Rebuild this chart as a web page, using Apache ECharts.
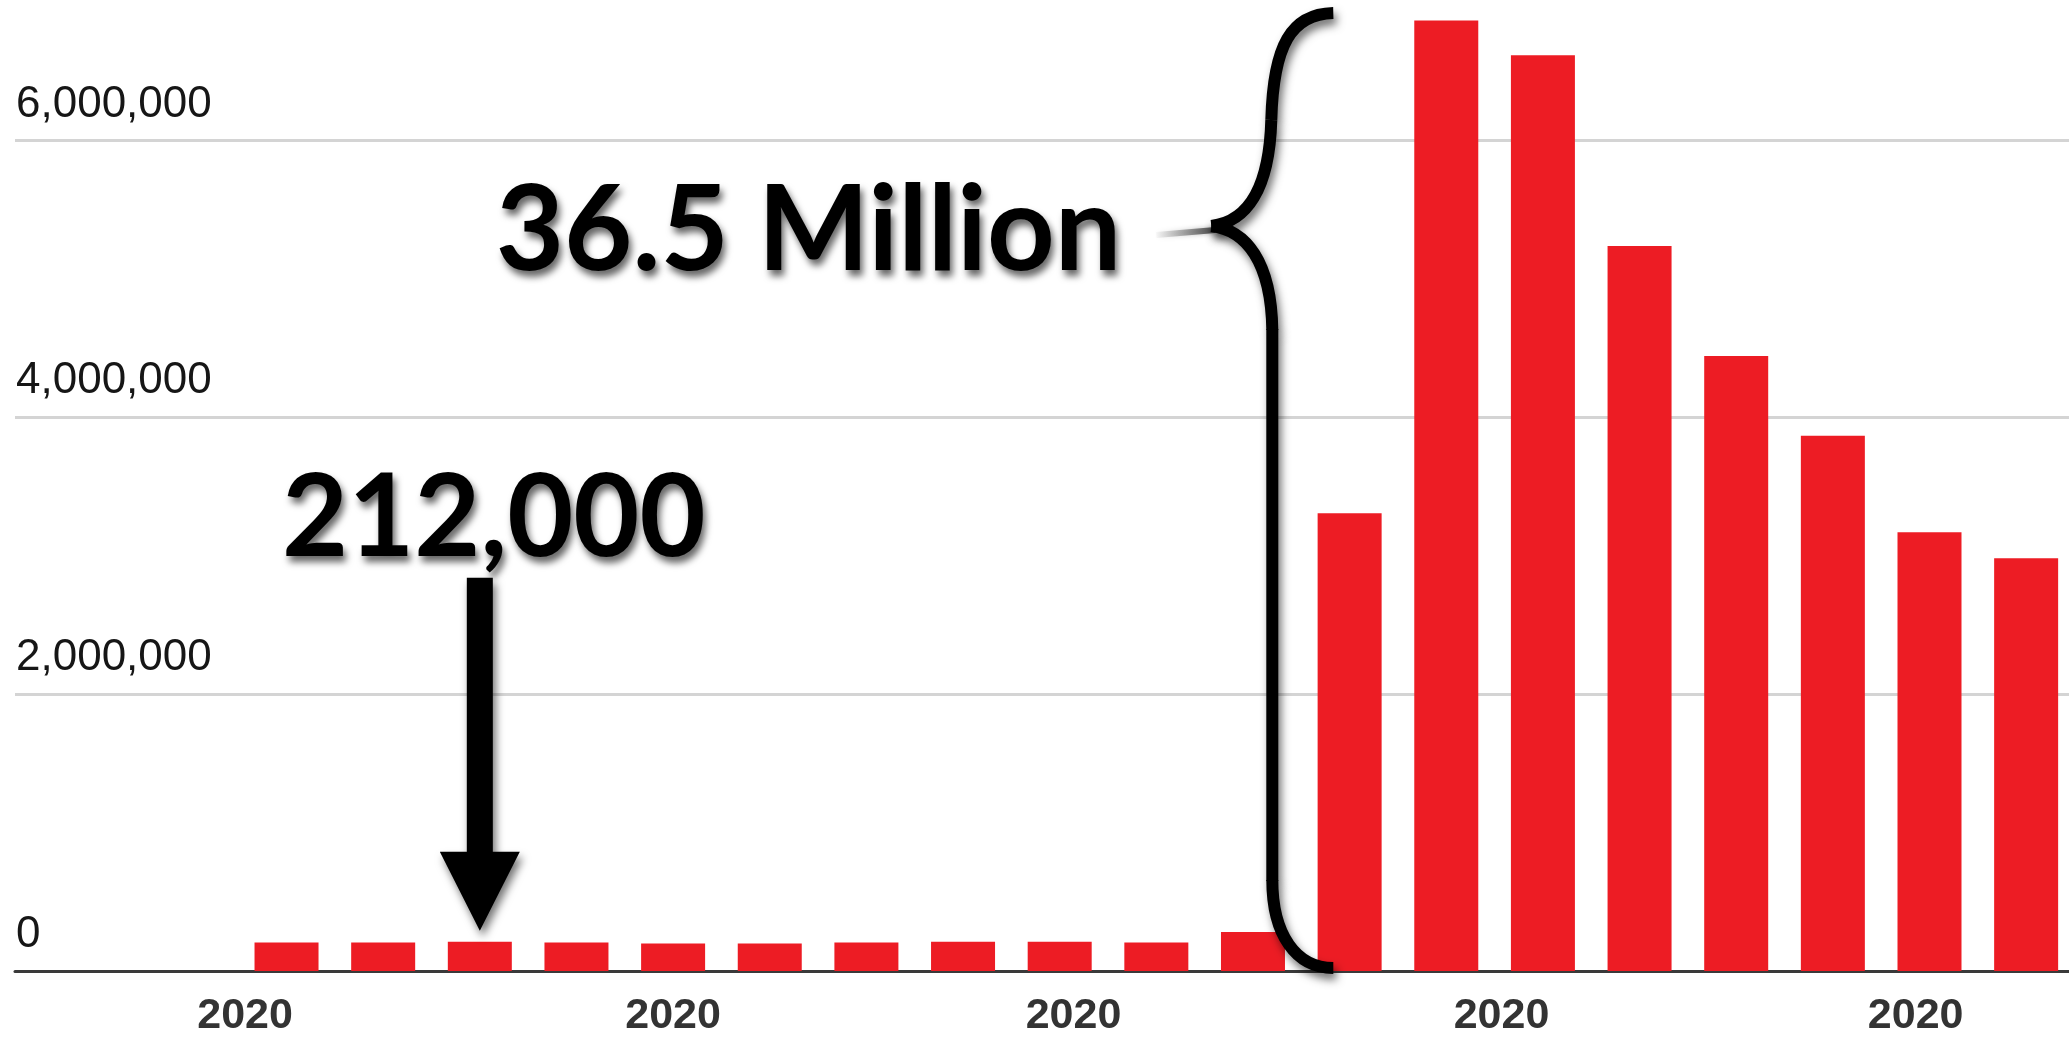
<!DOCTYPE html>
<html>
<head>
<meta charset="utf-8">
<script src="https://cdn.jsdelivr.net/npm/echarts@6/dist/echarts.min.js"></script>
<style>
  html, body { margin: 0; padding: 0; background: #ffffff; }
  #chart { width: 2069px; height: 1039px; }
</style>
</head>
<body>
<div id="chart"></div>
<script>
// Weekly initial jobless claims, week ending (2020)
const weekEnding = [
  '2020-01-04', '2020-01-11', '2020-01-18', '2020-01-25',
  '2020-02-01', '2020-02-08', '2020-02-15', '2020-02-22', '2020-02-29',
  '2020-03-07', '2020-03-14', '2020-03-21', '2020-03-28',
  '2020-04-04', '2020-04-11', '2020-04-18', '2020-04-25',
  '2020-05-02', '2020-05-09'
];
const initialClaims = [
  205000, 205000, 212000, 205000,
  198000, 198000, 205000, 212000, 212000,
  205000, 282000, 3307000, 6867000,
  6615000, 5237000, 4442000, 3867000,
  3169000, 2981000
];
// Month boundaries used for the x-axis labels
const monthTicks = ['2020-01-01', '2020-02-01', '2020-03-01', '2020-04-01', '2020-05-01'];
const axisStart = '2019-12-15T08:00';
const axisEnd = '2020-05-12T02:30';

// Callouts
const calloutWeekIndex = 2;           // week the arrow points at
const calloutText = '212,000';
const surgeStartIndex = 11;            // first week inside the brace
const surgeText = '36.5 Million';

function toTime(s) {
  const m = s.match(/^(\d{4})-(\d{2})-(\d{2})(?:T(\d{2}):(\d{2}))?/);
  return Date.UTC(+m[1], +m[2] - 1, +m[3], m[4] ? +m[4] : 0, m[5] ? +m[5] : 0);
}

const chart = echarts.init(document.getElementById('chart'), null, { renderer: 'canvas' });

const seriesData = weekEnding.map((d, i) => [toTime(d), initialClaims[i]]);

chart.setOption({
  animation: false,
  backgroundColor: '#ffffff',
  grid: { left: 15, right: 0, top: 2, bottom: 68, containLabel: false },
  xAxis: {
    type: 'value',
    min: toTime(axisStart),
    max: toTime(axisEnd),
    axisLine: { show: true, lineStyle: { color: '#3a3a3a', width: 3 } },
    axisTick: { show: false },
    splitLine: { show: false },
    axisLabel: {
      customValues: monthTicks.map(toTime),
      formatter: v => String(new Date(v).getUTCFullYear()),
      color: '#333333',
      fontFamily: 'Liberation Sans, Arial, sans-serif',
      fontWeight: 'bold',
      fontSize: 43,
      lineHeight: 43,
      margin: 24
    }
  },
  yAxis: {
    type: 'value',
    min: 0,
    max: 7000000,
    interval: 2000000,
    axisLine: { show: false },
    axisTick: { show: false },
    splitLine: { show: true, showMaxLine: false, lineStyle: { color: '#d4d4d4', width: 3 } },
    axisLabel: {
      inside: true,
      showMaxLabel: false,
      margin: 1,
      align: 'left',
      verticalAlign: 'bottom',
      lineHeight: 72,
      color: '#161616',
      fontFamily: 'Liberation Sans, Arial, sans-serif',
      fontSize: 44,
      formatter: v => v.toLocaleString('en-US')
    }
  },
  series: [{
    type: 'bar',
    data: seriesData,
    barWidth: 64,
    itemStyle: { color: '#ED1C24' },
    z: 2
  }]
});

// Annotations placed from the chart's own coordinate system
function px(i, v) {
  return chart.convertToPixel({ xAxisIndex: 0, yAxisIndex: 0 }, [toTime(weekEnding[i]), v]);
}
const zero = px(0, 0)[1];
const arrowPt = px(calloutWeekIndex, initialClaims[calloutWeekIndex]);
const ax = arrowPt[0];
const tipY = arrowPt[1] - 11;
const headBase = tipY - 79;
const shaftTop = tipY - 353;
const shaftHalf = 13, headHalf = 40;

const xBefore = px(surgeStartIndex - 1, 0)[0];
const xAfter = px(surgeStartIndex, 0)[0];
const bx = (xBefore + xAfter) / 2 - 30;     // vertical stroke of the brace
const ex = bx + 62;                         // brace ends
const topY = zero - 958;
const tipX = bx - 60;
const tipBY = topY + 213;

const shadow = { shadowBlur: 8, shadowColor: 'rgba(0,0,0,0.55)', shadowOffsetX: 3, shadowOffsetY: 6 };
const textShadow = { textShadowBlur: 7, textShadowColor: 'rgba(0,0,0,0.6)', textShadowOffsetX: 3, textShadowOffsetY: 6 };
const braceStyle = Object.assign({ fill: null, stroke: '#000000', lineWidth: 12, lineCap: 'butt' }, shadow);
const calloutFont = 'Lato, "Open Sans", sans-serif';

// Curly brace made of cubic segments plus a straight run
const braceSegments = [
  [ex, topY, ex - 42, topY + 1, bx + 2, topY + 32, bx, topY + 107],
  [bx, topY + 107, bx - 2, topY + 177, bx - 25, tipBY - 4, tipX, tipBY],
  [tipX, tipBY, bx - 25, tipBY + 4, bx, tipBY + 36, bx + 1, tipBY + 104],
  [bx + 1, zero - 91, bx + 1, zero - 36, bx + 25, zero - 3, ex, zero - 3]
];
const braceEls = braceSegments.map(s => ({
  type: 'bezierCurve', z: 10,
  shape: { x1: s[0], y1: s[1], cpx1: s[2], cpy1: s[3], cpx2: s[4], cpy2: s[5], x2: s[6], y2: s[7] },
  style: braceStyle
}));
braceEls.push({
  type: 'line', z: 10,
  shape: { x1: bx + 1, y1: tipBY + 103, x2: bx + 1, y2: zero - 90 },
  style: braceStyle
});

chart.setOption({
  graphic: [
    {
      type: 'polygon', z: 10,
      shape: { points: [
        [ax - shaftHalf, shaftTop], [ax + shaftHalf, shaftTop], [ax + shaftHalf, headBase],
        [ax + headHalf, headBase], [ax, tipY], [ax - headHalf, headBase], [ax - shaftHalf, headBase]
      ] },
      style: Object.assign({ fill: '#000000' }, shadow)
    },
    {
      type: 'text', z: 11,
      style: Object.assign({
        text: calloutText, x: ax + 14, y: shaftTop - 58,
        align: 'center', verticalAlign: 'middle',
        fontFamily: calloutFont, fontWeight: 'bold', fontSize: 114, fill: '#000000'
      }, textShadow)
    },
    {
      type: 'line', z: 9,
      shape: { x1: tipX - 55, y1: tipBY + 9, x2: tipX + 4, y2: tipBY + 4 },
      style: {
        lineWidth: 6,
        stroke: new echarts.graphic.LinearGradient(0, 0, 1, 0, [
          { offset: 0, color: 'rgba(80,80,80,0)' },
          { offset: 1, color: 'rgba(40,40,40,0.85)' }
        ]),
        shadowBlur: 5, shadowColor: 'rgba(0,0,0,0.4)'
      }
    }
  ].concat(braceEls, [
    {
      type: 'text', z: 11,
      style: Object.assign({
        text: surgeText, x: tipX - 90, y: tipBY + 6,
        align: 'right', verticalAlign: 'middle',
        fontFamily: calloutFont, fontWeight: 'bold', fontSize: 118, fill: '#000000'
      }, textShadow)
    }
  ])
});
</script>
</body>
</html>
